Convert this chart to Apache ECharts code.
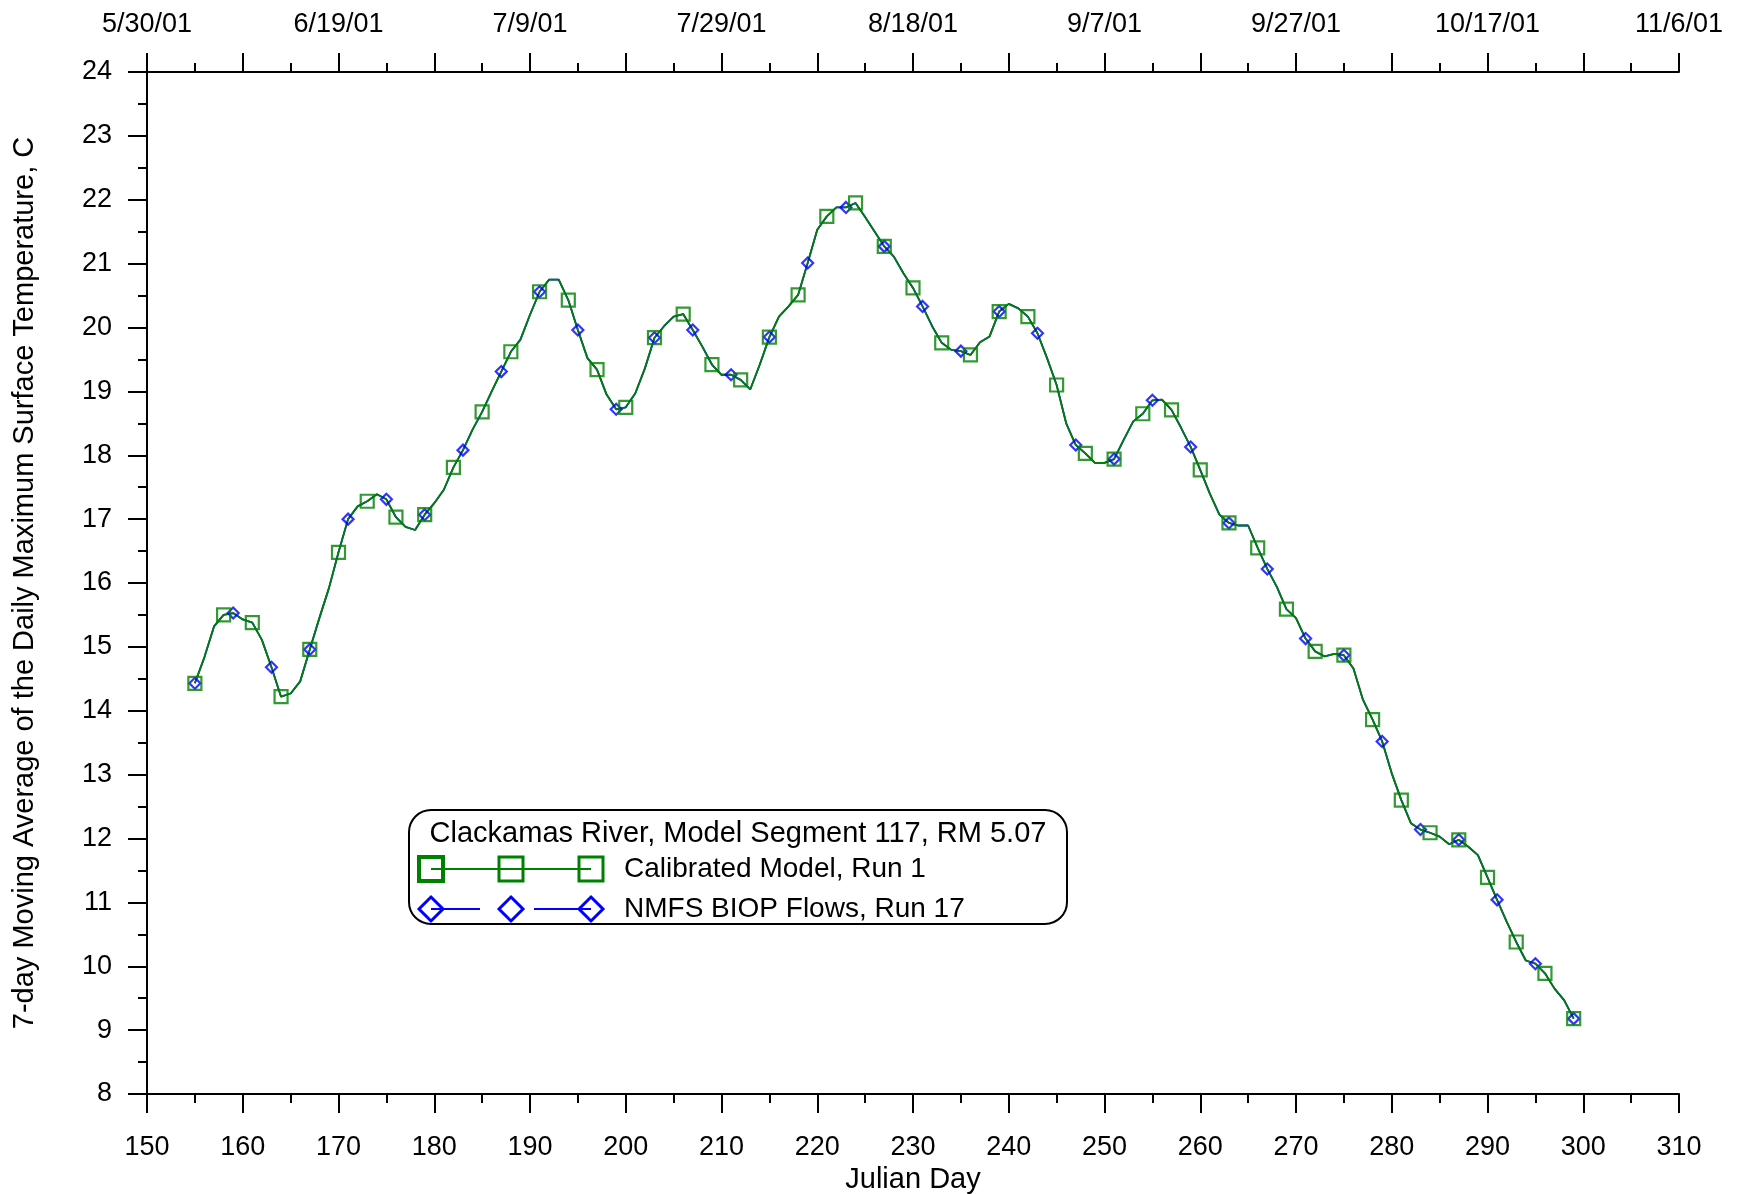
<!DOCTYPE html>
<html><head><meta charset="utf-8">
<script src="https://cdn.jsdelivr.net/npm/echarts@6/dist/echarts.min.js"></script>
<style>html,body{margin:0;padding:0;background:#fff}#c{width:1743px;height:1194px}</style>
</head><body><div id="c"></div>
<script>
// Julian day of first value (one value per day)
const startDay = 155;

// Calibrated Model, Run 1 — 7-day moving average of daily max surface temperature (C), days 155..299
const calibratedTemp = [
  14.43, 14.84, 15.32, 15.50, 15.53, 15.43, 15.38, 15.11, 14.68, 14.22,
  14.27, 14.46, 14.96, 15.45, 15.92, 16.48, 17.00, 17.20, 17.28, 17.39,
  17.31, 17.03, 16.88, 16.83, 17.07, 17.25, 17.46, 17.81, 18.08, 18.40,
  18.68, 19.00, 19.31, 19.62, 19.81, 20.20, 20.56, 20.75, 20.75, 20.43,
  19.96, 19.52, 19.34, 18.95, 18.72, 18.75, 18.97, 19.36, 19.84, 20.02,
  20.17, 20.21, 19.96, 19.70, 19.42, 19.26, 19.26, 19.18, 19.03, 19.42,
  19.85, 20.17, 20.33, 20.51, 21.01, 21.53, 21.74, 21.88, 21.88, 21.95,
  21.73, 21.50, 21.27, 21.11, 20.85, 20.62, 20.33, 20.02, 19.76, 19.65,
  19.63, 19.57, 19.77, 19.86, 20.25, 20.37, 20.30, 20.17, 19.91, 19.52,
  19.10, 18.50, 18.16, 18.03, 17.88, 17.88, 17.94, 18.24, 18.53, 18.65,
  18.86, 18.87, 18.71, 18.43, 18.13, 17.77, 17.40, 17.07, 16.94, 16.90,
  16.90, 16.55, 16.22, 15.94, 15.59, 15.45, 15.13, 14.93, 14.85, 14.89,
  14.87, 14.66, 14.17, 13.86, 13.52, 13.02, 12.60, 12.24, 12.14, 12.09,
  12.03, 11.91, 11.98, 11.87, 11.74, 11.39, 11.04, 10.70, 10.38, 10.09,
  10.04, 9.89, 9.65, 9.47, 9.18
];

// NMFS BIOP Flows, Run 17 — days 155..299 (overlaps the calibrated run almost exactly)
const nmfsTemp = [
  14.43, 14.84, 15.32, 15.50, 15.53, 15.43, 15.38, 15.11, 14.68, 14.22,
  14.27, 14.46, 14.96, 15.45, 15.92, 16.48, 17.00, 17.20, 17.28, 17.39,
  17.31, 17.03, 16.88, 16.83, 17.07, 17.25, 17.46, 17.81, 18.08, 18.40,
  18.68, 19.00, 19.31, 19.62, 19.81, 20.20, 20.56, 20.75, 20.75, 20.43,
  19.96, 19.52, 19.34, 18.95, 18.72, 18.75, 18.97, 19.36, 19.84, 20.02,
  20.17, 20.21, 19.96, 19.70, 19.42, 19.26, 19.26, 19.18, 19.03, 19.42,
  19.85, 20.17, 20.33, 20.51, 21.01, 21.53, 21.74, 21.88, 21.88, 21.95,
  21.73, 21.50, 21.27, 21.11, 20.85, 20.62, 20.33, 20.02, 19.76, 19.65,
  19.63, 19.57, 19.77, 19.86, 20.25, 20.37, 20.30, 20.17, 19.91, 19.52,
  19.10, 18.50, 18.16, 18.03, 17.88, 17.88, 17.94, 18.24, 18.53, 18.65,
  18.86, 18.87, 18.71, 18.43, 18.13, 17.77, 17.40, 17.07, 16.94, 16.90,
  16.90, 16.55, 16.22, 15.94, 15.59, 15.45, 15.13, 14.93, 14.85, 14.89,
  14.87, 14.66, 14.17, 13.86, 13.52, 13.02, 12.60, 12.24, 12.14, 12.09,
  12.03, 11.91, 11.98, 11.87, 11.74, 11.39, 11.04, 10.70, 10.38, 10.09,
  10.04, 9.89, 9.65, 9.47, 9.18
];

// marker spacing (days) for each run
const calibratedMarkerStep = 3;
const nmfsMarkerStep = 4;

// top (date) axis tick labels
const topTickDays = [150, 170, 190, 210, 230, 250, 270, 290, 310];
const topTickLabels = ['5/30/01', '6/19/01', '7/9/01', '7/29/01', '8/18/01', '9/7/01', '9/27/01', '10/17/01', '11/6/01'];

const legendTitle = 'Clackamas River, Model Segment 117, RM 5.07';
const seriesNames = ['Calibrated Model, Run 1', 'NMFS BIOP Flows, Run 17'];

const GREEN = '#008000';
const BLUE = '#0000ff';
const FONT = 'Liberation Sans, Arial, sans-serif';

const calPts = calibratedTemp.map((v, i) => [startDay + i, v]);
const nmfsPts = nmfsTemp.map((v, i) => [startDay + i, v]);
const calMarks = calPts.filter((p, i) => i % calibratedMarkerStep === 0);
const nmfsMarks = nmfsPts.filter((p, i) => i % nmfsMarkerStep === 0);

const chart = echarts.init(document.getElementById('c'), null, { renderer: 'canvas' });

const axisCommon = {
  axisLine: { show: true, lineStyle: { color: '#000', width: 2 } },
  axisTick: { show: true, inside: false, length: 19, lineStyle: { color: '#000', width: 2 } },
  minorTick: { show: true, splitNumber: 2, length: 9, lineStyle: { color: '#000', width: 2 } },
  splitLine: { show: false },
  minorSplitLine: { show: false },
  axisLabel: { color: '#000', fontSize: 27, fontFamily: FONT }
};

// legend box geometry (pixels)
const LB = { x: 409, y: 810, w: 658, h: 114 };
const mx = [431, 511, 591];
const row1 = 869, row2 = 909;

const graphics = [
  { type: 'rect', shape: { x: LB.x, y: LB.y, width: LB.w, height: LB.h, r: 22 },
    style: { fill: '#fff', stroke: '#000', lineWidth: 2 }, z: 100 },
  { type: 'text', x: (LB.x + LB.x + LB.w) / 2, y: 834, z: 101,
    style: { text: legendTitle, fill: '#000', font: '29px ' + FONT, textAlign: 'center', textVerticalAlign: 'middle' } },
  { type: 'line', shape: { x1: mx[0], y1: row1, x2: mx[2], y2: row1 }, style: { stroke: GREEN, lineWidth: 2 }, z: 101 },
  { type: 'text', x: 624, y: row1, z: 101,
    style: { text: seriesNames[0], fill: '#000', font: '28px ' + FONT, textAlign: 'left', textVerticalAlign: 'middle' } },
  { type: 'line', shape: { x1: mx[0], y1: row2, x2: 480, y2: row2 }, style: { stroke: BLUE, lineWidth: 2 }, z: 101 },
  { type: 'line', shape: { x1: 534, y1: row2, x2: mx[2], y2: row2 }, style: { stroke: BLUE, lineWidth: 2 }, z: 101 },
  { type: 'text', x: 624, y: row2, z: 101,
    style: { text: seriesNames[1], fill: '#000', font: '28px ' + FONT, textAlign: 'left', textVerticalAlign: 'middle' } }
];
mx.forEach((x, k) => {
  const s = 12;
  graphics.push({ type: 'rect', shape: { x: x - s, y: row1 - s, width: 2 * s, height: 2 * s },
    style: { fill: 'none', stroke: GREEN, lineWidth: k === 0 ? 4 : 3 }, z: 102 });
  graphics.push({ type: 'polygon', shape: { points: [[x, row2 - s], [x + s, row2], [x, row2 + s], [x - s, row2]] },
    style: { fill: 'none', stroke: BLUE, lineWidth: 3 }, z: 102 });
});

chart.setOption({
  backgroundColor: '#fff',
  animation: false,
  textStyle: { fontFamily: FONT },
  grid: { left: 147, right: 64, top: 72, bottom: 100, containLabel: false, outerBoundsMode: 'none' },
  xAxis: [
    Object.assign({}, axisCommon, {
      type: 'value', position: 'bottom', min: 150, max: 310, interval: 10,
      name: 'Julian Day', nameLocation: 'middle', nameGap: 70,
      nameTextStyle: { color: '#000', fontSize: 29, fontFamily: FONT },
      axisLabel: Object.assign({}, axisCommon.axisLabel, { margin: 40 })
    }),
    Object.assign({}, axisCommon, {
      type: 'value', position: 'top', min: 150, max: 310, interval: 10,
      axisLabel: Object.assign({}, axisCommon.axisLabel, {
        margin: 34,
        formatter: v => { const k = topTickDays.indexOf(Math.round(v)); return k >= 0 ? topTickLabels[k] : ''; }
      })
    })
  ],
  yAxis: [
    Object.assign({}, axisCommon, {
      type: 'value', position: 'left', min: 8, max: 24, interval: 1,
      name: '7-day Moving Average of the Daily Maximum Surface Temperature, C',
      nameLocation: 'middle', nameGap: 108,
      nameTextStyle: { color: '#000', fontSize: 29, fontFamily: FONT },
      axisLabel: Object.assign({}, axisCommon.axisLabel, { margin: 35 })
    })
  ],
  graphic: graphics,
  series: [
    { name: seriesNames[1], type: 'line', xAxisIndex: 0, yAxisIndex: 0, data: nmfsPts, showSymbol: false,
      lineStyle: { color: BLUE, width: 1.8 }, itemStyle: { color: BLUE }, z: 2 },
    { name: seriesNames[0], type: 'line', xAxisIndex: 0, yAxisIndex: 0, data: calPts, showSymbol: false,
      lineStyle: { color: GREEN, width: 1.8 }, itemStyle: { color: GREEN }, z: 3 },
    { name: seriesNames[1], type: 'scatter', data: nmfsMarks, symbol: 'diamond', symbolSize: 11,
      itemStyle: { color: 'rgba(0,0,0,0)', borderColor: BLUE, borderWidth: 2.2 }, z: 4 },
    { name: seriesNames[0], type: 'scatter', data: calMarks, symbol: 'rect', symbolSize: 13,
      itemStyle: { color: 'rgba(0,0,0,0)', borderColor: GREEN, borderWidth: 2.2 }, z: 5 }
  ]
});
</script>
</body></html>
